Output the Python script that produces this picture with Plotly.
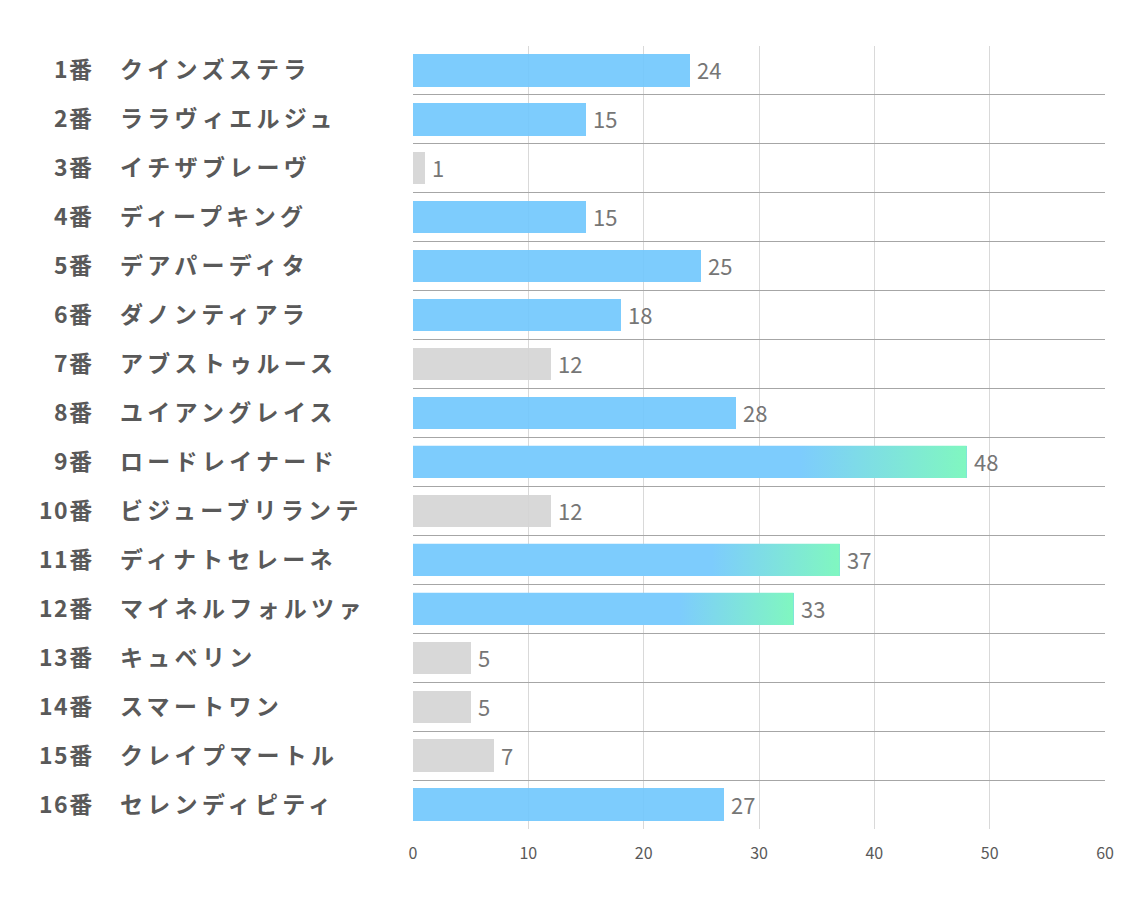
import plotly.graph_objects as go

numbers = ["1番", "2番", "3番", "4番", "5番", "6番", "7番", "8番",
           "9番", "10番", "11番", "12番", "13番", "14番", "15番", "16番"]
names = ["クインズステラ", "ララヴィエルジュ", "イチザブレーヴ", "ディープキング",
         "デアパーディタ", "ダノンティアラ", "アブストゥルース", "ユイアングレイス",
         "ロードレイナード", "ビジューブリランテ", "ディナトセレーネ", "マイネルフォルツァ",
         "キュベリン", "スマートワン", "クレイプマートル", "セレンディピティ"]
values = [24, 15, 1, 15, 25, 18, 12, 28, 48, 12, 37, 33, 5, 5, 7, 27]
groups = ["blue", "blue", "gray", "blue", "blue", "blue", "gray", "blue",
          "grad", "gray", "grad", "grad", "gray", "gray", "gray", "blue"]
xticks = [0, 10, 20, 30, 40, 50, 60]

BLUE = "rgba(111,198,253,0.9)"
BLUE_SOLID = "rgb(125,204,253)"
GREEN = "rgb(128,247,192)"
GRAY = "rgba(212,212,212,0.9)"
BAR_W = 0.66
LABEL_FONT = dict(family="Noto Sans CJK JP", size=23, color="#595959", weight="bold")

idx = list(range(len(values)))
colors = [GRAY if g == "gray" else BLUE for g in groups]

fig = go.Figure()
fig.add_trace(go.Bar(
    x=values, y=idx, orientation="h", width=BAR_W,
    marker=dict(color=colors, line=dict(width=0)),
    hoverinfo="skip",
))

for i, (v, g) in enumerate(zip(values, groups)):
    if g != "grad":
        continue
    y0, y1 = i - BAR_W / 2, i + BAR_W / 2
    fig.add_trace(go.Scatter(
        x=[0, v, v, 0, 0], y=[y0, y0, y1, y1, y0],
        mode="lines", line=dict(width=0), fill="toself",
        fillgradient=dict(type="horizontal",
                          colorscale=[[0, BLUE_SOLID], [0.7, BLUE_SOLID], [1, GREEN]]),
        hoverinfo="skip", showlegend=False,
    ))

annotations = []
for i, (n, nm, v) in enumerate(zip(numbers, names, values)):
    annotations.append(dict(
        x=0, xref="paper", y=i, yref="y",
        text='<span style="letter-spacing:1.5px">' + n + '</span>', showarrow=False,
        xanchor="right", xshift=-317, yshift=2, font=LABEL_FONT,
    ))
    annotations.append(dict(
        x=0, xref="paper", y=i, yref="y",
        text='<span style="letter-spacing:4.3px">' + nm + '</span>', showarrow=False,
        xanchor="left", xshift=-295, yshift=2, font=LABEL_FONT,
    ))
    annotations.append(dict(
        x=v, xref="x", y=i, yref="y", text=str(v), showarrow=False,
        xanchor="left", xshift=5, yshift=1,
        font=dict(family="Noto Sans CJK JP", size=22, color="#767676"),
    ))

fig.update_layout(
    width=1134, height=907,
    margin=dict(l=413, r=29, t=46, b=78),
    paper_bgcolor="white", plot_bgcolor="white",
    showlegend=False, bargap=0,
    annotations=annotations,
    xaxis=dict(range=[0, 60], tickvals=xticks, showgrid=True, gridcolor="#D9D9D9",
               gridwidth=1, zeroline=False, showline=False, ticks="",
               tickfont=dict(family="Noto Sans CJK JP", size=16, color="#595959"),
               ticklabelstandoff=13, fixedrange=True),
    yaxis=dict(range=[len(values) - 0.5, -0.5], tickvals=[k - 0.5 for k in range(len(values) + 1)],
               showticklabels=False, showgrid=True, gridcolor="#A6A6A6", gridwidth=1,
               zeroline=False, showline=False, ticks="", fixedrange=True),
)

fig.write_html("out.html")
